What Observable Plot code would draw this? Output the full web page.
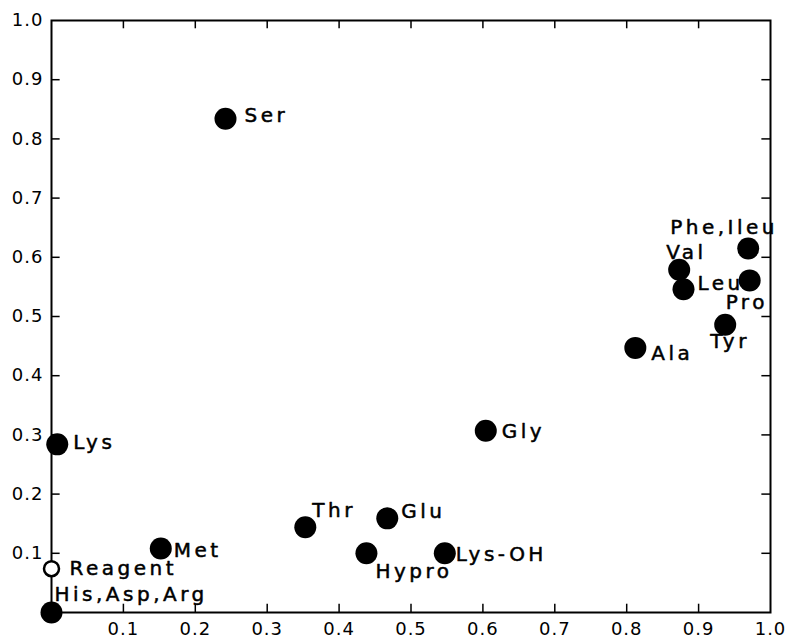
<!DOCTYPE html>
<html>
<head>
<meta charset="utf-8">
<script src="https://cdn.jsdelivr.net/npm/d3@7"></script>
<script src="https://cdn.jsdelivr.net/npm/@observablehq/plot@0.6"></script>
<style>
  html, body { margin: 0; padding: 0; background: #fff; }
  svg { display: block; }
</style>
</head>
<body>
<div id="chart"></div>
<script>
// Data
const names = ["His,Asp,Arg", "Reagent", "Lys", "Met", "Ser", "Thr", "Hypro", "Glu", "Lys-OH", "Gly", "Ala", "Val", "Leu", "Tyr", "Phe,Ileu", "Pro"];
const xValues = [0.0, 0.0, 0.008, 0.152, 0.242, 0.353, 0.438, 0.467, 0.547, 0.604, 0.812, 0.873, 0.879, 0.937, 0.969, 0.971];
const yValues = [0.0, 0.074, 0.284, 0.108, 0.834, 0.144, 0.100, 0.159, 0.100, 0.307, 0.447, 0.579, 0.546, 0.486, 0.615, 0.561];
const filled = [true, false, true, true, true, true, true, true, true, true, true, true, true, true, true, true];
const xTicks = [0.1, 0.2, 0.3, 0.4, 0.5, 0.6, 0.7, 0.8, 0.9, 1.0];
const yTicks = [0.1, 0.2, 0.3, 0.4, 0.5, 0.6, 0.7, 0.8, 0.9, 1.0];
const innerTicks = [0.1, 0.2, 0.3, 0.4, 0.5, 0.6, 0.7, 0.8, 0.9];

// label placement (layout only)
const labelDx = [3, 18, 16, 13, 19, 7, 9, 14, 11, 16, 16, -13, 14, -15, -78, -24];
const labelDy = [-18, 0, -2, 2, -3, -17, 18, -7, 1, 1, 6, -17, -6, 17, -21, 22];

const rows = names.map((n, i) => ({name: n, x: xValues[i], y: yValues[i], filled: filled[i]}));
const font = "DejaVu Sans";

const labelMarks = rows.map((r, i) => Plot.text([r], {
  x: "x", y: "y", text: "name",
  dx: labelDx[i], dy: labelDy[i],
  textAnchor: "start", fontSize: 20, fill: "black",
  stroke: "black", strokeWidth: 0.5
}));

const chart = Plot.plot({
  width: 786,
  height: 638,
  marginLeft: 51,
  marginRight: 16,
  marginTop: 20,
  marginBottom: 26,
  style: {fontFamily: font, background: "white"},
  x: {domain: [0, 1], label: null},
  y: {domain: [0, 1], label: null},
  marks: [
    Plot.axisX(xTicks, {tickSize: 0, tickPadding: 10, fontSize: 18, tickFormat: d3.format(".1f"), fill: "black", label: null}),
    Plot.axisY(yTicks, {tickSize: 0, tickPadding: 8, fontSize: 18, tickFormat: d3.format(".1f"), fill: "black", label: null}),
    Plot.ruleX(innerTicks, {x: d => d, y1: 0, y2: 0.014, stroke: "black", strokeWidth: 1.5}),
    Plot.ruleX(innerTicks, {x: d => d, y1: 1, y2: 0.986, stroke: "black", strokeWidth: 1.5}),
    Plot.ruleY(innerTicks, {y: d => d, x1: 0, x2: 0.012, stroke: "black", strokeWidth: 1.5}),
    Plot.ruleY(innerTicks, {y: d => d, x1: 1, x2: 0.988, stroke: "black", strokeWidth: 1.5}),
    Plot.frame({stroke: "black", strokeWidth: 2}),
    Plot.dot(rows.filter(d => d.filled), {x: "x", y: "y", r: 11, fill: "black", stroke: "none"}),
    Plot.dot(rows.filter(d => !d.filled), {x: "x", y: "y", r: 7.5, fill: "white", stroke: "black", strokeWidth: 2.5}),
    ...labelMarks
  ]
});
chart.querySelectorAll("text").forEach(t => {
  const fs = parseFloat(t.closest("[font-size]")?.getAttribute("font-size") || "10");
  t.setAttribute("letter-spacing", fs >= 20 ? "3.5" : "1");
});
document.getElementById("chart").appendChild(chart);
</script>
</body>
</html>
